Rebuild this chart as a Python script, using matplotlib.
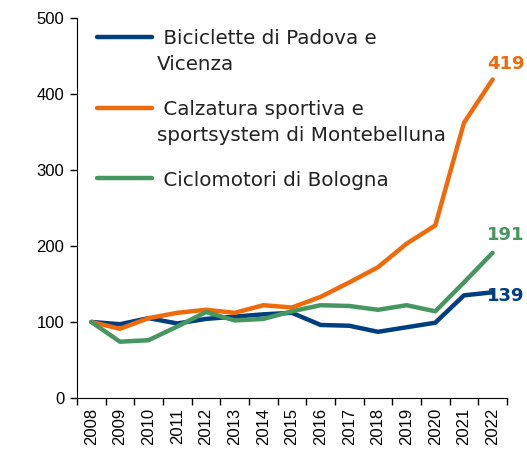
import matplotlib
matplotlib.use("Agg")
import matplotlib.pyplot as plt
import numpy as np

years = [str(y) for y in range(2008, 2023)]
biciclette = [100, 97, 105, 98, 104, 107, 110, 112, 96, 95, 87, 93, 99, 135, 139]
calzatura = [100, 91, 105, 112, 116, 112, 122, 119, 133, 152, 172, 203, 227, 362, 419]
ciclomotori = [100, 74, 76, 94, 113, 102, 104, 114, 122, 121, 116, 122, 114, 152, 191]

labels = [" Biciclette di Padova e\nVicenza",
          " Calzatura sportiva e\nsportsystem di Montebelluna",
          " Ciclomotori di Bologna"]
colors = ["#003E80", "#EE6A0A", "#45965F"]
end_labels = ["139", "419", "191"]
end_offsets = [(-4, -3), (-4, 11), (-4, 13)]

fig = plt.figure(figsize=(5.27, 4.59), dpi=100)
ax = fig.add_axes([0.146, 0.133, 0.816, 0.828])

x = np.arange(len(years))
series = [biciclette, calzatura, ciclomotori]
for vals, lab, col, txt, off in zip(series, labels, colors, end_labels, end_offsets):
    ax.plot(x, vals, color=col, lw=3.2, solid_capstyle="round")
    ax.annotate(txt, (x[-1], vals[-1]), xytext=off, textcoords="offset points",
                ha="left", va="center", color=col, fontsize=13, fontweight="bold")

# legend drawn by hand so the key sits on the first line of each label
leg_y = [0.951, 0.764, 0.578]
line_gap = 0.0684
for lab, col, yy in zip(labels, colors, leg_y):
    ax.plot([0.047, 0.174], [yy, yy], transform=ax.transAxes, color=col,
            lw=3.2, solid_capstyle="round", clip_on=False)
    for i, part in enumerate(lab.split("\n")):
        ax.text(0.186, yy - 0.02 - i * line_gap, part, transform=ax.transAxes,
                ha="left", va="baseline", fontsize=14.3, color="#222222")

ax.set_xlim(-0.5, len(years) - 0.5)
ax.set_ylim(0, 500)
ax.set_yticks(range(0, 501, 100))
ax.tick_params(axis="y", labelsize=12, length=5, width=1, direction="out", pad=4)

# ticks between categories, labels at the centres
ax.set_xticks(np.arange(len(years) + 1) - 0.5)
ax.set_xticklabels([])
ax.set_xticks(x, minor=True)
ax.set_xticklabels(years, minor=True, rotation=90, fontsize=12)
ax.tick_params(axis="x", which="major", length=5, width=1)
ax.tick_params(axis="x", which="minor", length=0, pad=7)

for lbl in ax.get_xticklabels(minor=True) + ax.get_yticklabels():
    lbl.set_fontfamily("Liberation Sans")

ax.spines["top"].set_visible(False)
ax.spines["right"].set_visible(False)

plt.savefig("out.png", dpi=100)
